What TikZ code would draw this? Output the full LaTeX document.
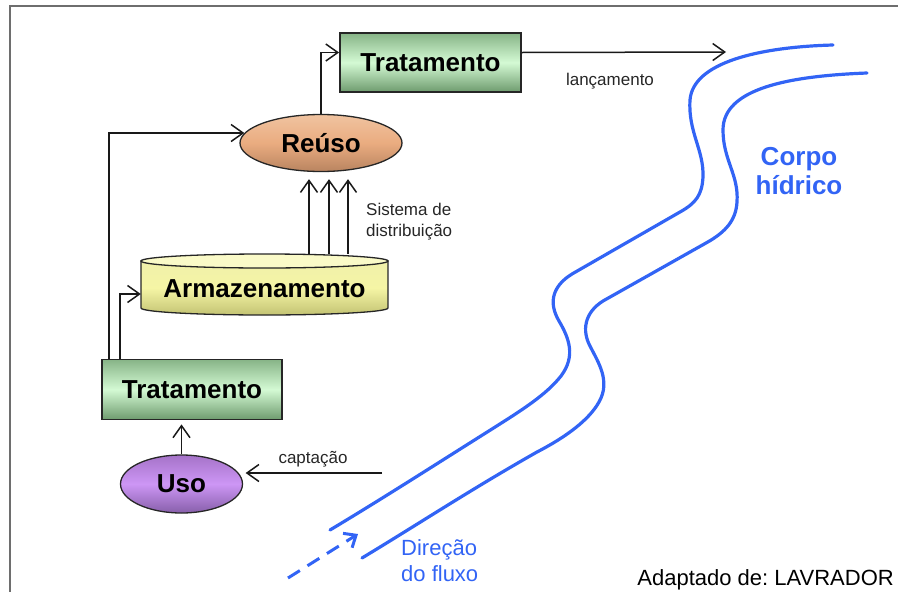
\documentclass[tikz,border=0pt]{standalone}
\usepackage{fontspec}
\setmainfont{Liberation Sans}
\usetikzlibrary{arrows.meta,shapes.geometric,calc}
\definecolor{grA}{RGB}{135,180,135}
\definecolor{grM}{RGB}{212,250,212}
\definecolor{grB}{RGB}{110,155,110}
\definecolor{orA}{RGB}{240,195,160}
\definecolor{orM}{RGB}{234,172,128}
\definecolor{orB}{RGB}{185,132,96}
\definecolor{puA}{RGB}{165,115,200}
\definecolor{puM}{RGB}{205,150,245}
\definecolor{puB}{RGB}{135,95,170}
\definecolor{yeA}{RGB}{240,240,170}
\definecolor{yeM}{RGB}{245,245,165}
\definecolor{yeB}{RGB}{195,195,115}
\definecolor{yeT}{RGB}{250,250,200}
\definecolor{river}{RGB}{50,100,245}
\definecolor{frame}{RGB}{110,110,110}
\tikzset{
  boxnode/.style={rectangle, draw=black!85, line width=1.8pt, top color=grA, bottom color=grB, middle color=grM, inner sep=0pt, minimum width=180pt, minimum height=60pt, font=\fontsize{26}{30}\selectfont\bfseries},
  ellnode/.style={ellipse, draw=black!85, line width=1.3pt, inner sep=0pt, font=\fontsize{26}{30}\selectfont\bfseries},
  arr/.style={-{Straight Barb[length=12pt,width=17pt]}, line width=1.5pt, black!90},
  small/.style={inner sep=0pt, font=\fontsize{17}{21}\selectfont, text=black!85},
  bank/.style={river, line width=3.2pt, line cap=round},
}
\frenchspacing
\begin{document}
\begin{tikzpicture}[x=1pt,y=-1pt]
\useasboundingbox (0,0) rectangle (898,592);
% frame
\draw[frame, line width=2pt] (10,592) -- (10,6) -- (898,6);

% top treatment
\node[boxnode, minimum width=181pt, minimum height=59pt] (trat2) at (430.5,62.5) {Tratamento};
% reuse
\node[ellnode, top color=orA, bottom color=orB, middle color=orM, minimum width=162pt, minimum height=57pt] (reuso) at (321,143) {Reúso};
% storage cylinder
\coordinate (cylc) at (264.5,261);
\shade[top color=yeA, bottom color=yeB, middle color=yeM, draw=black!85, line width=1.3pt]
  (141,261) -- (141,308) arc[start angle=180, end angle=360, x radius=123.5pt, y radius=7pt] -- (388,261) -- cycle;
\filldraw[fill=yeT, draw=black!85, line width=1.3pt] (cylc) ellipse[x radius=123.5pt, y radius=7pt];
\node[inner sep=0pt, minimum width=247pt, minimum height=56pt, font=\fontsize{26}{30}\selectfont\bfseries] (armaz) at (264.5,289) {Armazenamento};
% lower treatment
\node[boxnode] (trat1) at (192,389.5) {Tratamento};
% use
\node[ellnode, top color=puA, bottom color=puB, middle color=puM, minimum width=122pt, minimum height=58pt] (uso) at (181.5,484) {Uso};

% connectors
\draw[arr] (reuso.north) |- ([yshift=10pt]trat2.west);
\coordinate (lanc) at (726,52);
\draw[arr] ([yshift=10pt]trat2.east) -- (lanc);
\draw[arr] ([xshift=8pt]trat1.north west) |- ([xshift=5pt,yshift=10pt]reuso.west);
\draw[arr] ([xshift=19pt]trat1.north west) |- ([yshift=-5pt]armaz.west);
\foreach \dx/\n in {-12/a,8/b,27/c}{
  \coordinate (top\n) at ($(reuso.south)+(\dx,7)$);
  \coordinate (bot\n) at ($(cylc)+(\dx+56.5,-7)$);
  \draw[arr] (bot\n) -- (top\n);
}
\draw[arr] (uso.north) -- ([yshift=-4pt]uso.north |- trat1.south);
\coordinate (capt) at (382,473);
\draw[arr] (capt) -- ([xshift=2.5pt,yshift=11pt]uso.east);

% labels
\node[small] (llanc) at (610,81) {lançamento};
\node[small, align=left, anchor=west] (ldist) at (366,222) {Sistema de\\distribuição};
\node[small] (lcapt) at (313,459) {captação};

% river
\draw[bank] (833,45) .. controls (760,47) and (693,62) .. (690,100)
  .. controls (688,132) and (704,150) .. (703,177)
  .. controls (702,195) and (696,203) .. (680,212)
  -- (572,274)
  .. controls (551,287) and (549,304) .. (559,321)
  .. controls (569,338) and (576,356) .. (561,376)
  .. controls (546,395) and (522,410) .. (492,429)
  .. controls (430,468) and (385,497) .. (330,530);
\draw[bank] (867,73) .. controls (790,76) and (723,88) .. (723,130)
  .. controls (723,160) and (739,175) .. (737,202)
  .. controls (736,220) and (726,232) .. (706,243)
  -- (603,301)
  .. controls (584,313) and (582,331) .. (590,346)
  .. controls (598,362) and (611,381) .. (599,402)
  .. controls (589,420) and (566,437) .. (537,452)
  .. controls (470,490) and (420,523) .. (362,558);
\coordinate (fs) at (288,578);
\coordinate (ft) at (358,534);
\draw[river, line width=3pt, dash pattern=on 14pt off 9pt, -{Straight Barb[length=10pt,width=17pt]}] (fs) -- (ft);
\node[inner sep=0pt, font=\fontsize{26}{29}\selectfont\bfseries, text=river, align=center] (corpo) at (799,171) {Corpo\\hídrico};
\node[inner sep=0pt, font=\fontsize{22}{26}\selectfont, text=river, align=left, anchor=west] (dir) at (401,561) {Direção\\do fluxo};
\node[inner sep=0pt, font=\fontsize{22}{26}\selectfont, anchor=east] (src) at (894,580) {Adaptado de: LAVRADOR};
\end{tikzpicture}
\end{document}
